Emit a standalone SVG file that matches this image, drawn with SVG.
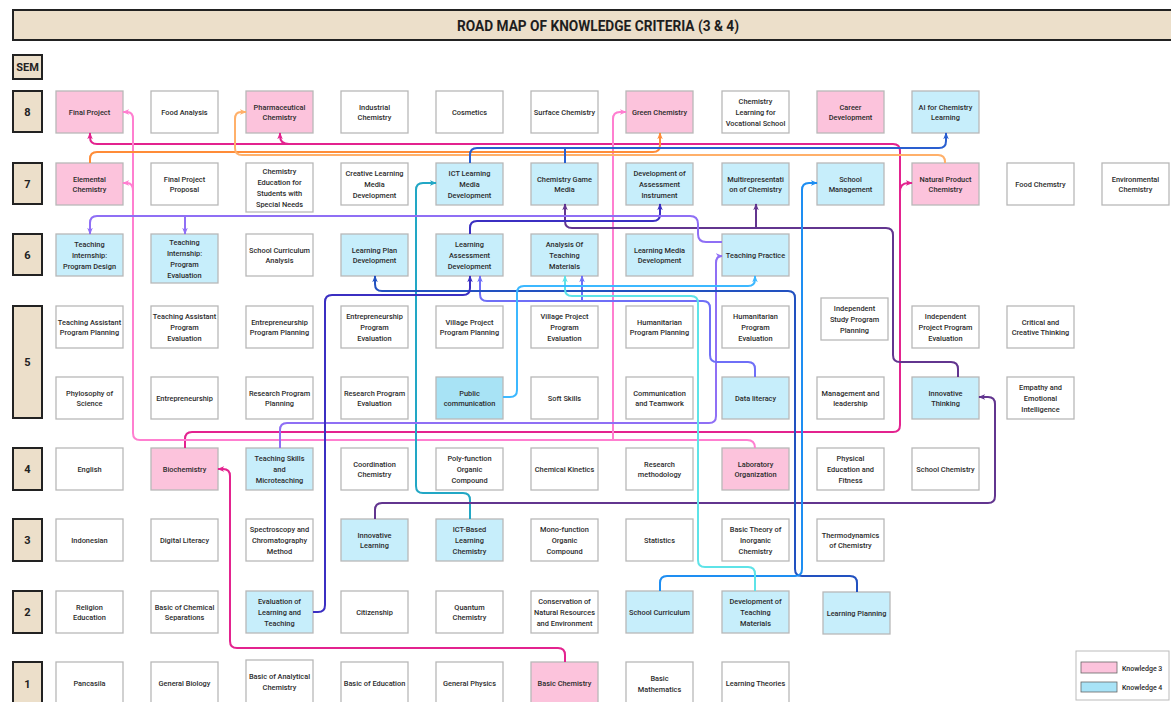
<svg xmlns="http://www.w3.org/2000/svg" width="1171" height="702" viewBox="0 0 1171 702">
<style>
.nd rect{fill:#fff;stroke:#b8b8b8;stroke-width:1.3}
.k3 rect{fill:#fcc3dc}
.k4 rect{fill:#c7eefb}
.pub rect{fill:#a8e3f5}
.nd text{font-family:Roboto,"Liberation Sans",sans-serif;font-size:7.4px;font-weight:500;fill:#2b2b2b;text-anchor:middle}
.sem rect{fill:#ecdfca;stroke:#222;stroke-width:2}
.sem text{font-family:Roboto,"Liberation Sans",sans-serif;font-size:11px;font-weight:700;fill:#222;text-anchor:middle}
.c path{fill:none;stroke-width:2;stroke-linecap:butt}
.lg text{font-family:Roboto,"Liberation Sans",sans-serif;font-size:7px;font-weight:500;fill:#2b2b2b}
</style>
<defs>
<marker id="a-mag" viewBox="0 0 10 10" refX="9" refY="5" markerWidth="7" markerHeight="7" markerUnits="userSpaceOnUse" orient="auto"><path d="M0,1 L10,5 L0,9 L3,5 z" fill="#e3238f"/></marker>
<marker id="a-pnk" viewBox="0 0 10 10" refX="9" refY="5" markerWidth="7" markerHeight="7" markerUnits="userSpaceOnUse" orient="auto"><path d="M0,1 L10,5 L0,9 L3,5 z" fill="#ff7fd0"/></marker>
<marker id="a-org" viewBox="0 0 10 10" refX="9" refY="5" markerWidth="7" markerHeight="7" markerUnits="userSpaceOnUse" orient="auto"><path d="M0,1 L10,5 L0,9 L3,5 z" fill="#ff8c38"/></marker>
<marker id="a-lor" viewBox="0 0 10 10" refX="9" refY="5" markerWidth="7" markerHeight="7" markerUnits="userSpaceOnUse" orient="auto"><path d="M0,1 L10,5 L0,9 L3,5 z" fill="#ffb06a"/></marker>
<marker id="a-rbl" viewBox="0 0 10 10" refX="9" refY="5" markerWidth="7" markerHeight="7" markerUnits="userSpaceOnUse" orient="auto"><path d="M0,1 L10,5 L0,9 L3,5 z" fill="#2a5fd0"/></marker>
<marker id="a-tea" viewBox="0 0 10 10" refX="9" refY="5" markerWidth="7" markerHeight="7" markerUnits="userSpaceOnUse" orient="auto"><path d="M0,1 L10,5 L0,9 L3,5 z" fill="#22a7c5"/></marker>
<marker id="a-dpu" viewBox="0 0 10 10" refX="9" refY="5" markerWidth="7" markerHeight="7" markerUnits="userSpaceOnUse" orient="auto"><path d="M0,1 L10,5 L0,9 L3,5 z" fill="#62358f"/></marker>
<marker id="a-ind" viewBox="0 0 10 10" refX="9" refY="5" markerWidth="7" markerHeight="7" markerUnits="userSpaceOnUse" orient="auto"><path d="M0,1 L10,5 L0,9 L3,5 z" fill="#3b2fc2"/></marker>
<marker id="a-lav" viewBox="0 0 10 10" refX="9" refY="5" markerWidth="7" markerHeight="7" markerUnits="userSpaceOnUse" orient="auto"><path d="M0,1 L10,5 L0,9 L3,5 z" fill="#8f6ff5"/></marker>
<marker id="a-vio" viewBox="0 0 10 10" refX="9" refY="5" markerWidth="7" markerHeight="7" markerUnits="userSpaceOnUse" orient="auto"><path d="M0,1 L10,5 L0,9 L3,5 z" fill="#6f6ff7"/></marker>
<marker id="a-dbl" viewBox="0 0 10 10" refX="9" refY="5" markerWidth="7" markerHeight="7" markerUnits="userSpaceOnUse" orient="auto"><path d="M0,1 L10,5 L0,9 L3,5 z" fill="#2251c0"/></marker>
<marker id="a-mbl" viewBox="0 0 10 10" refX="9" refY="5" markerWidth="7" markerHeight="7" markerUnits="userSpaceOnUse" orient="auto"><path d="M0,1 L10,5 L0,9 L3,5 z" fill="#1e8ef2"/></marker>
<marker id="a-lbl" viewBox="0 0 10 10" refX="9" refY="5" markerWidth="7" markerHeight="7" markerUnits="userSpaceOnUse" orient="auto"><path d="M0,1 L10,5 L0,9 L3,5 z" fill="#3cb8ff"/></marker>
<marker id="a-cya" viewBox="0 0 10 10" refX="9" refY="5" markerWidth="7" markerHeight="7" markerUnits="userSpaceOnUse" orient="auto"><path d="M0,1 L10,5 L0,9 L3,5 z" fill="#5ee3e8"/></marker>
</defs>
<rect width="1171" height="702" fill="#fff"/>
<g id="title">
<rect x="13" y="10" width="1170" height="30" fill="#ecdfca" stroke="#222" stroke-width="2"/>
<text x="598" y="30.5" font-family="Roboto,'Liberation Sans',sans-serif" font-size="15" font-weight="700" fill="#1e1e1e" text-anchor="middle" textLength="282" lengthAdjust="spacingAndGlyphs">ROAD MAP OF KNOWLEDGE CRITERIA (3 &amp; 4)</text>
</g>
<g id="semesters" class="sem">
<g id="sem-head"><rect x="13" y="55" width="29" height="24"/><text x="27.5" y="71">SEM</text></g>
<g id="sem-8"><rect x="13" y="91" width="29" height="41"/><text x="27.5" y="115.5">8</text></g>
<g id="sem-7"><rect x="13" y="163" width="29" height="41"/><text x="27.5" y="187.5">7</text></g>
<g id="sem-6"><rect x="13" y="234" width="29" height="41"/><text x="27.5" y="258.5">6</text></g>
<g id="sem-5"><rect x="13" y="306" width="29" height="112"/><text x="27.5" y="366">5</text></g>
<g id="sem-4"><rect x="13" y="448" width="29" height="42"/><text x="27.5" y="473">4</text></g>
<g id="sem-3"><rect x="13" y="519" width="29" height="42"/><text x="27.5" y="544">3</text></g>
<g id="sem-2"><rect x="13" y="591" width="29" height="42"/><text x="27.5" y="616">2</text></g>
<g id="sem-1"><rect x="13" y="662" width="29" height="44"/><text x="27.5" y="688">1</text></g>
</g>
<g id="nodes">
<g id="n8-1" class="nd k3"><rect x="56" y="91" width="67" height="42"/><text x="89.5" y="115">Final Project</text></g>
<g id="n8-2" class="nd"><rect x="151" y="91" width="67" height="42"/><text x="184.5" y="115">Food Analysis</text></g>
<g id="n8-3" class="nd k3"><rect x="246" y="91" width="67" height="42"/><text x="279.5" y="109.65">Pharmaceutical<tspan x="279.5" dy="10.7">Chemistry</tspan></text></g>
<g id="n8-4" class="nd"><rect x="341" y="91" width="67" height="42"/><text x="374.5" y="109.65">Industrial<tspan x="374.5" dy="10.7">Chemistry</tspan></text></g>
<g id="n8-5" class="nd"><rect x="436" y="91" width="67" height="42"/><text x="469.5" y="115">Cosmetics</text></g>
<g id="n8-6" class="nd"><rect x="531" y="91" width="67" height="42"/><text x="564.5" y="115">Surface Chemistry</text></g>
<g id="n8-7" class="nd k3"><rect x="626" y="91" width="67" height="42"/><text x="659.5" y="115">Green Chemistry</text></g>
<g id="n8-8" class="nd"><rect x="722" y="91" width="67" height="42"/><text x="755.5" y="104.3">Chemistry<tspan x="755.5" dy="10.7">Learning for</tspan><tspan x="755.5" dy="10.7">Vocational School</tspan></text></g>
<g id="n8-9" class="nd k3"><rect x="817" y="91" width="67" height="42"/><text x="850.5" y="109.65">Career<tspan x="850.5" dy="10.7">Development</tspan></text></g>
<g id="n8-10" class="nd k4"><rect x="912" y="91" width="67" height="42"/><text x="945.5" y="109.65">AI for Chemistry<tspan x="945.5" dy="10.7">Learning</tspan></text></g>

<g id="n7-1" class="nd k3"><rect x="56" y="163" width="67" height="42"/><text x="89.5" y="181.65">Elemental<tspan x="89.5" dy="10.7">Chemistry</tspan></text></g>
<g id="n7-2" class="nd"><rect x="151" y="163" width="67" height="42"/><text x="184.5" y="181.65">Final Project<tspan x="184.5" dy="10.7">Proposal</tspan></text></g>
<g id="n7-3" class="nd"><rect x="246" y="163" width="67" height="49"/><text x="279.5" y="174.45">Chemistry<tspan x="279.5" dy="10.7">Education for</tspan><tspan x="279.5" dy="10.7">Students with</tspan><tspan x="279.5" dy="10.7">Special Needs</tspan></text></g>
<g id="n7-4" class="nd"><rect x="341" y="163" width="67" height="42"/><text x="374.5" y="176.3">Creative Learning<tspan x="374.5" dy="10.7">Media</tspan><tspan x="374.5" dy="10.7">Development</tspan></text></g>
<g id="n7-5" class="nd k4"><rect x="436" y="163" width="67" height="42"/><text x="469.5" y="176.3">ICT Learning<tspan x="469.5" dy="10.7">Media</tspan><tspan x="469.5" dy="10.7">Development</tspan></text></g>
<g id="n7-6" class="nd k4"><rect x="531" y="163" width="67" height="42"/><text x="564.5" y="181.65">Chemistry Game<tspan x="564.5" dy="10.7">Media</tspan></text></g>
<g id="n7-7" class="nd k4"><rect x="626" y="163" width="67" height="42"/><text x="659.5" y="176.3">Development of<tspan x="659.5" dy="10.7">Assessment</tspan><tspan x="659.5" dy="10.7">Instrument</tspan></text></g>
<g id="n7-8" class="nd k4"><rect x="722" y="163" width="67" height="42"/><text x="755.5" y="181.65">Multirepresentati<tspan x="755.5" dy="10.7">on of Chemistry</tspan></text></g>
<g id="n7-9" class="nd k4"><rect x="817" y="163" width="67" height="42"/><text x="850.5" y="181.65">School<tspan x="850.5" dy="10.7">Management</tspan></text></g>
<g id="n7-10" class="nd k3"><rect x="912" y="163" width="67" height="42"/><text x="945.5" y="181.65">Natural Product<tspan x="945.5" dy="10.7">Chemistry</tspan></text></g>
<g id="n7-11" class="nd"><rect x="1007" y="163" width="67" height="42"/><text x="1040.5" y="187">Food Chemstry</text></g>
<g id="n7-12" class="nd"><rect x="1102" y="163" width="67" height="42"/><text x="1135.5" y="181.65">Environmental<tspan x="1135.5" dy="10.7">Chemistry</tspan></text></g>

<g id="n6-1" class="nd k4"><rect x="56" y="234" width="67" height="42"/><text x="89.5" y="247.3">Teaching<tspan x="89.5" dy="10.7">Internship:</tspan><tspan x="89.5" dy="10.7">Program Design</tspan></text></g>
<g id="n6-2" class="nd k4"><rect x="151" y="234" width="67" height="49"/><text x="184.5" y="245.45">Teaching<tspan x="184.5" dy="10.7">Internship:</tspan><tspan x="184.5" dy="10.7">Program</tspan><tspan x="184.5" dy="10.7">Evaluation</tspan></text></g>
<g id="n6-3" class="nd"><rect x="246" y="234" width="67" height="42"/><text x="279.5" y="252.65">School Curriculum<tspan x="279.5" dy="10.7">Analysis</tspan></text></g>
<g id="n6-4" class="nd k4"><rect x="341" y="234" width="67" height="42"/><text x="374.5" y="252.65">Learning Plan<tspan x="374.5" dy="10.7">Development</tspan></text></g>
<g id="n6-5" class="nd k4"><rect x="436" y="234" width="67" height="42"/><text x="469.5" y="247.3">Learning<tspan x="469.5" dy="10.7">Assessment</tspan><tspan x="469.5" dy="10.7">Development</tspan></text></g>
<g id="n6-6" class="nd k4"><rect x="531" y="234" width="67" height="42"/><text x="564.5" y="247.3">Analysis Of<tspan x="564.5" dy="10.7">Teaching</tspan><tspan x="564.5" dy="10.7">Materials</tspan></text></g>
<g id="n6-7" class="nd k4"><rect x="626" y="234" width="67" height="42"/><text x="659.5" y="252.65">Learning Media<tspan x="659.5" dy="10.7">Development</tspan></text></g>
<g id="n6-8" class="nd k4"><rect x="722" y="234" width="67" height="42"/><text x="755.5" y="258">Teaching Practice</text></g>

<g id="n5a-1" class="nd"><rect x="56" y="306" width="67" height="42"/><text x="89.5" y="324.65">Teaching Assistant<tspan x="89.5" dy="10.7">Program Planning</tspan></text></g>
<g id="n5a-2" class="nd"><rect x="151" y="306" width="67" height="42"/><text x="184.5" y="319.3">Teaching Assistant<tspan x="184.5" dy="10.7">Program</tspan><tspan x="184.5" dy="10.7">Evaluation</tspan></text></g>
<g id="n5a-3" class="nd"><rect x="246" y="306" width="67" height="42"/><text x="279.5" y="324.65">Entrepreneurship<tspan x="279.5" dy="10.7">Program Planning</tspan></text></g>
<g id="n5a-4" class="nd"><rect x="341" y="306" width="67" height="42"/><text x="374.5" y="319.3">Entrepreneurship<tspan x="374.5" dy="10.7">Program</tspan><tspan x="374.5" dy="10.7">Evaluation</tspan></text></g>
<g id="n5a-5" class="nd"><rect x="436" y="306" width="67" height="42"/><text x="469.5" y="324.65">Village Project<tspan x="469.5" dy="10.7">Program Planning</tspan></text></g>
<g id="n5a-6" class="nd"><rect x="531" y="306" width="67" height="42"/><text x="564.5" y="319.3">Village Project<tspan x="564.5" dy="10.7">Program</tspan><tspan x="564.5" dy="10.7">Evaluation</tspan></text></g>
<g id="n5a-7" class="nd"><rect x="626" y="306" width="67" height="42"/><text x="659.5" y="324.65">Humanitarian<tspan x="659.5" dy="10.7">Program Planning</tspan></text></g>
<g id="n5a-8" class="nd"><rect x="722" y="306" width="67" height="42"/><text x="755.5" y="319.3">Humanitarian<tspan x="755.5" dy="10.7">Program</tspan><tspan x="755.5" dy="10.7">Evaluation</tspan></text></g>
<g id="n5a-9" class="nd"><rect x="821" y="298" width="67" height="42"/><text x="854.5" y="311.3">Independent<tspan x="854.5" dy="10.7">Study Program</tspan><tspan x="854.5" dy="10.7">Planning</tspan></text></g>
<g id="n5a-10" class="nd"><rect x="912" y="306" width="67" height="42"/><text x="945.5" y="319.3">Independent<tspan x="945.5" dy="10.7">Project Program</tspan><tspan x="945.5" dy="10.7">Evaluation</tspan></text></g>
<g id="n5a-11" class="nd"><rect x="1007" y="306" width="67" height="42"/><text x="1040.5" y="324.65">Critical and<tspan x="1040.5" dy="10.7">Creative Thinking</tspan></text></g>

<g id="n5b-1" class="nd"><rect x="56" y="377" width="67" height="42"/><text x="89.5" y="395.65">Phylosophy of<tspan x="89.5" dy="10.7">Science</tspan></text></g>
<g id="n5b-2" class="nd"><rect x="151" y="377" width="67" height="42"/><text x="184.5" y="401">Entrepreneurship</text></g>
<g id="n5b-3" class="nd"><rect x="246" y="377" width="67" height="42"/><text x="279.5" y="395.65">Research Program<tspan x="279.5" dy="10.7">Planning</tspan></text></g>
<g id="n5b-4" class="nd"><rect x="341" y="377" width="67" height="42"/><text x="374.5" y="395.65">Research Program<tspan x="374.5" dy="10.7">Evaluation</tspan></text></g>
<g id="n5b-5" class="nd pub"><rect x="436" y="377" width="67" height="42"/><text x="469.5" y="395.65">Public<tspan x="469.5" dy="10.7">communication</tspan></text></g>
<g id="n5b-6" class="nd"><rect x="531" y="377" width="67" height="42"/><text x="564.5" y="401">Soft Skills</text></g>
<g id="n5b-7" class="nd"><rect x="626" y="377" width="67" height="42"/><text x="659.5" y="395.65">Communication<tspan x="659.5" dy="10.7">and Teamwork</tspan></text></g>
<g id="n5b-8" class="nd k4"><rect x="722" y="377" width="67" height="42"/><text x="755.5" y="401">Data literacy</text></g>
<g id="n5b-9" class="nd"><rect x="817" y="377" width="67" height="42"/><text x="850.5" y="395.65">Management and<tspan x="850.5" dy="10.7">leadership</tspan></text></g>
<g id="n5b-10" class="nd k4"><rect x="912" y="377" width="67" height="42"/><text x="945.5" y="395.65">Innovative<tspan x="945.5" dy="10.7">Thinking</tspan></text></g>
<g id="n5b-11" class="nd"><rect x="1007" y="377" width="67" height="42"/><text x="1040.5" y="390.3">Empathy and<tspan x="1040.5" dy="10.7">Emotional</tspan><tspan x="1040.5" dy="10.7">Intelligence</tspan></text></g>

<g id="n4-1" class="nd"><rect x="56" y="448" width="67" height="42"/><text x="89.5" y="472">English</text></g>
<g id="n4-2" class="nd k3"><rect x="151" y="448" width="67" height="42"/><text x="184.5" y="472">Biochemistry</text></g>
<g id="n4-3" class="nd k4"><rect x="246" y="448" width="67" height="42"/><text x="279.5" y="461.3">Teaching Skills<tspan x="279.5" dy="10.7">and</tspan><tspan x="279.5" dy="10.7">Microteaching</tspan></text></g>
<g id="n4-4" class="nd"><rect x="341" y="448" width="67" height="42"/><text x="374.5" y="466.65">Coordination<tspan x="374.5" dy="10.7">Chemistry</tspan></text></g>
<g id="n4-5" class="nd"><rect x="436" y="448" width="67" height="42"/><text x="469.5" y="461.3">Poly-function<tspan x="469.5" dy="10.7">Organic</tspan><tspan x="469.5" dy="10.7">Compound</tspan></text></g>
<g id="n4-6" class="nd"><rect x="531" y="448" width="67" height="42"/><text x="564.5" y="472">Chemical Kinetics</text></g>
<g id="n4-7" class="nd"><rect x="626" y="448" width="67" height="42"/><text x="659.5" y="466.65">Research<tspan x="659.5" dy="10.7">methodology</tspan></text></g>
<g id="n4-8" class="nd k3"><rect x="722" y="448" width="67" height="42"/><text x="755.5" y="466.65">Laboratory<tspan x="755.5" dy="10.7">Organization</tspan></text></g>
<g id="n4-9" class="nd"><rect x="817" y="448" width="67" height="42"/><text x="850.5" y="461.3">Physical<tspan x="850.5" dy="10.7">Education and</tspan><tspan x="850.5" dy="10.7">Fitness</tspan></text></g>
<g id="n4-10" class="nd"><rect x="912" y="448" width="67" height="42"/><text x="945.5" y="472">School Chemistry</text></g>

<g id="n3-1" class="nd"><rect x="56" y="519" width="67" height="42"/><text x="89.5" y="543">Indonesian</text></g>
<g id="n3-2" class="nd"><rect x="151" y="519" width="67" height="42"/><text x="184.5" y="543">Digital Literacy</text></g>
<g id="n3-3" class="nd"><rect x="246" y="519" width="67" height="42"/><text x="279.5" y="532.3">Spectroscopy and<tspan x="279.5" dy="10.7">Chromatography</tspan><tspan x="279.5" dy="10.7">Method</tspan></text></g>
<g id="n3-4" class="nd k4"><rect x="341" y="519" width="67" height="42"/><text x="374.5" y="537.65">Innovative<tspan x="374.5" dy="10.7">Learning</tspan></text></g>
<g id="n3-5" class="nd k4"><rect x="436" y="519" width="67" height="42"/><text x="469.5" y="532.3">ICT-Based<tspan x="469.5" dy="10.7">Learning</tspan><tspan x="469.5" dy="10.7">Chemistry</tspan></text></g>
<g id="n3-6" class="nd"><rect x="531" y="519" width="67" height="42"/><text x="564.5" y="532.3">Mono-function<tspan x="564.5" dy="10.7">Organic</tspan><tspan x="564.5" dy="10.7">Compound</tspan></text></g>
<g id="n3-7" class="nd"><rect x="626" y="519" width="67" height="42"/><text x="659.5" y="543">Statistics</text></g>
<g id="n3-8" class="nd"><rect x="722" y="519" width="67" height="42"/><text x="755.5" y="532.3">Basic Theory of<tspan x="755.5" dy="10.7">Inorganic</tspan><tspan x="755.5" dy="10.7">Chemistry</tspan></text></g>
<g id="n3-9" class="nd"><rect x="817" y="519" width="67" height="42"/><text x="850.5" y="537.65">Thermodynamics<tspan x="850.5" dy="10.7">of Chemistry</tspan></text></g>

<g id="n2-1" class="nd"><rect x="56" y="591" width="67" height="42"/><text x="89.5" y="609.65">Religion<tspan x="89.5" dy="10.7">Education</tspan></text></g>
<g id="n2-2" class="nd"><rect x="151" y="591" width="67" height="42"/><text x="184.5" y="609.65">Basic of Chemical<tspan x="184.5" dy="10.7">Separations</tspan></text></g>
<g id="n2-3" class="nd k4"><rect x="246" y="591" width="67" height="42"/><text x="279.5" y="604.3">Evaluation of<tspan x="279.5" dy="10.7">Learning and</tspan><tspan x="279.5" dy="10.7">Teaching</tspan></text></g>
<g id="n2-4" class="nd"><rect x="341" y="591" width="67" height="42"/><text x="374.5" y="615">Citizenship</text></g>
<g id="n2-5" class="nd"><rect x="436" y="591" width="67" height="42"/><text x="469.5" y="609.65">Quantum<tspan x="469.5" dy="10.7">Chemistry</tspan></text></g>
<g id="n2-6" class="nd"><rect x="531" y="591" width="67" height="42"/><text x="564.5" y="604.3">Conservation of<tspan x="564.5" dy="10.7">Natural Resources</tspan><tspan x="564.5" dy="10.7">and Environment</tspan></text></g>
<g id="n2-7" class="nd k4"><rect x="626" y="591" width="67" height="42"/><text x="659.5" y="615">School Curriculum</text></g>
<g id="n2-8" class="nd k4"><rect x="722" y="591" width="67" height="42"/><text x="755.5" y="604.3">Development of<tspan x="755.5" dy="10.7">Teaching</tspan><tspan x="755.5" dy="10.7">Materials</tspan></text></g>
<g id="n2-9" class="nd k4"><rect x="823" y="592" width="67" height="42"/><text x="856.5" y="616">Learning Planning</text></g>

<g id="n1-1" class="nd"><rect x="56" y="662" width="67" height="44"/><text x="89.5" y="686">Pancasila</text></g>
<g id="n1-2" class="nd"><rect x="151" y="662" width="67" height="44"/><text x="184.5" y="686">General Biology</text></g>
<g id="n1-3" class="nd"><rect x="246" y="660" width="67" height="46"/><text x="279.5" y="679">Basic of Analytical<tspan x="279.5" dy="10.7">Chemistry</tspan></text></g>
<g id="n1-4" class="nd"><rect x="341" y="662" width="67" height="44"/><text x="374.5" y="686">Basic of Education</text></g>
<g id="n1-5" class="nd"><rect x="436" y="662" width="67" height="44"/><text x="469.5" y="686">General Physics</text></g>
<g id="n1-6" class="nd k3"><rect x="531" y="662" width="67" height="44"/><text x="564.5" y="686">Basic Chemistry</text></g>
<g id="n1-7" class="nd"><rect x="626" y="662" width="67" height="44"/><text x="659.5" y="681">Basic<tspan x="659.5" dy="10.7">Mathematics</tspan></text></g>
<g id="n1-8" class="nd"><rect x="722" y="662" width="67" height="44"/><text x="755.5" y="686">Learning Theories</text></g>
</g>

<g id="connectors" class="c">
<path d="M565,662 V655 Q565,648 558,648 H237 Q230,648 230,641 V476 Q230,469 223,469 H218" stroke="#e3238f" marker-end="url(#a-mag)"/>
<path d="M185,448 V439 Q185,432 192,432 H893 Q900,432 900,425 V151 Q900,144 893,144 H97 Q90,144 90,137 V133" stroke="#e3238f" marker-end="url(#a-mag)"/>
<path d="M289,144 Q280,144 280,136 V133" stroke="#e3238f" marker-end="url(#a-mag)"/>
<path d="M900,192 Q900,183 908,183 H912" stroke="#e3238f" marker-end="url(#a-mag)"/>
<path d="M755,448 Q755,440 747,440 H140 Q133,440 133,433 V119 Q133,112 127,112 H123" stroke="#ff7fd0" marker-end="url(#a-pnk)"/>
<path d="M133,191 Q133,183 127,183 H123" stroke="#ff7fd0" marker-end="url(#a-pnk)"/>
<path d="M613,440 V119 Q613,112 620,112 H626" stroke="#ff7fd0" marker-end="url(#a-pnk)"/>
<path d="M90,163 V159 Q90,152 97,152 H653 Q660,152 660,145 V133" stroke="#ff8c38" marker-end="url(#a-org)"/>
<path d="M945,163 V162 Q945,155 938,155 H242 Q235,155 235,148 V119 Q235,112 241,112 H246" stroke="#ffb06a" marker-end="url(#a-lor)"/>
<path d="M470,163 V155 Q470,148 477,148 H939 Q946,148 946,141 V133" stroke="#2a5fd0" marker-end="url(#a-rbl)"/>
<path d="M565,163 V148" stroke="#2a5fd0"/>
<path d="M470,519 V500 Q470,493 463,493 H423 Q416,493 416,486 V190 Q416,183 423,183 H436" stroke="#22a7c5" marker-end="url(#a-tea)"/>
<path d="M375,519 V510 Q375,503 382,503 H988 Q995,503 995,496 V404 Q995,397 988,397 H979" stroke="#62358f" marker-end="url(#a-dpu)"/>
<path d="M958,377 V369 Q958,362 951,362 H900 Q893,362 893,355 V235 Q893,228 886,228 H572 Q565,228 565,221 V204" stroke="#62358f" marker-end="url(#a-dpu)"/>
<path d="M756,228 V204" stroke="#62358f" marker-end="url(#a-dpu)"/>
<path d="M470,234 V228 Q470,221 477,221 H653 Q660,221 660,214 V204" stroke="#3b2fc2" marker-end="url(#a-ind)"/>
<path d="M722,242 H706 Q698,242 698,234 V224 Q698,216 690,216 H97 Q90,216 90,223 V234" stroke="#8f6ff5" marker-end="url(#a-lav)"/>
<path d="M185,216 V234" stroke="#8f6ff5" marker-end="url(#a-lav)"/>
<path d="M280,448 V430 Q280,423 287,423 H709 Q716,423 716,416 V263 Q716,256 722,256" stroke="#8f6ff5" marker-end="url(#a-lav)"/>
<path d="M755,377 V369 Q755,362 748,362 H717 Q710,362 710,355 V308 Q710,301 703,301 H487 Q480,301 480,294 V276" stroke="#6f6ff7" marker-end="url(#a-vio)"/>
<path d="M582,301 V276" stroke="#6f6ff7" marker-end="url(#a-vio)"/>
<path d="M857,592 V583 Q857,576 850,576 H802 Q795,576 795,569 V298 Q795,291 788,291 H382 Q375,291 375,284 V276" stroke="#2251c0" marker-end="url(#a-dbl)"/>
<path d="M660,591 V583 Q660,576 667,576 H795 Q802,576 802,569 V190 Q802,183 809,183 H817" stroke="#1e8ef2" marker-end="url(#a-mbl)"/>
<path d="M755,591 V574 Q755,567 748,567 H705 Q698,567 698,560 V303 Q698,296 691,296 H572 Q565,296 565,289 V276" stroke="#5ee3e8" marker-end="url(#a-cya)"/>
<path d="M503,397 H510 Q517,397 517,390 V293 Q517,286 524,286 H748 Q755,286 755,279 V276" stroke="#3cb8ff" marker-end="url(#a-lbl)"/>
<path d="M313,612 H318 Q325,612 325,605 V302 Q325,295 332,295 H463 Q470,295 470,288 V276" stroke="#3b2fc2" marker-end="url(#a-ind)"/>
</g>

<g id="legend" class="lg">
<rect x="1076" y="651" width="93" height="49" fill="#fff" stroke="#bbb" stroke-width="1"/>
<rect x="1081" y="662" width="36" height="11" fill="#fcc3dc" stroke="#666" stroke-width="0.8"/>
<text x="1122" y="670.5">Knowledge 3</text>
<rect x="1081" y="682" width="36" height="10" fill="#a8e3f7" stroke="#666" stroke-width="0.8"/>
<text x="1122" y="689.5">Knowledge 4</text>
</g>
</svg>
